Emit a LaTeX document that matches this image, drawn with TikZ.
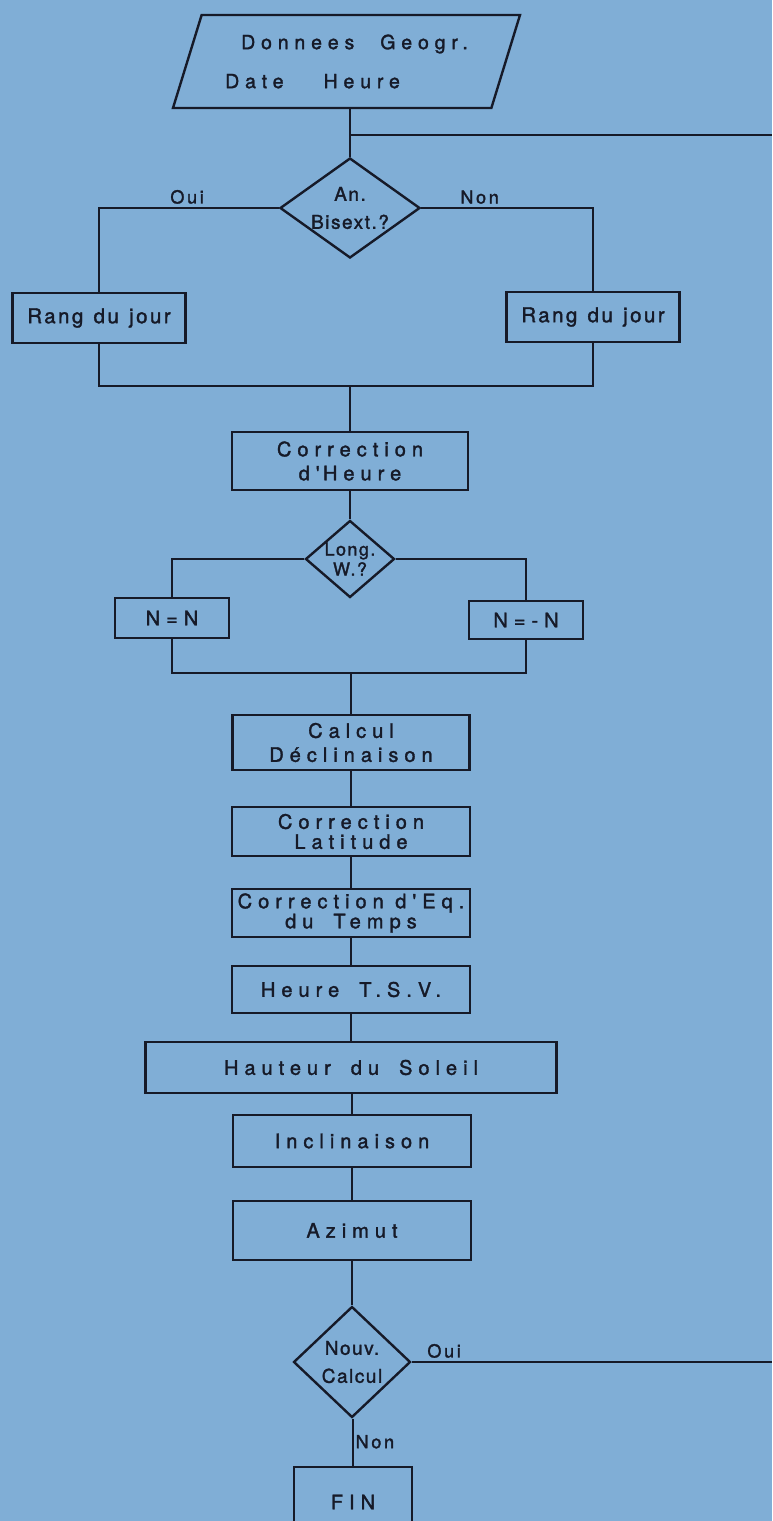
\documentclass[tikz,border=0pt]{standalone}
\usepackage{fontspec}
\usepackage{tikz}
\usetikzlibrary{positioning, shapes.geometric}

\newfontfamily\widefont[LetterSpace=30, FakeBold=1.6]{TeX Gyre Heros}
\newfontfamily\narrowfont[LetterSpace=8, FakeBold=1.6]{TeX Gyre Heros}
\newfontfamily\rangfont[LetterSpace=12, FakeBold=1.6]{TeX Gyre Heros}
\newfontfamily\tagfont[LetterSpace=15, FakeBold=1.6]{TeX Gyre Heros}
\definecolor{sheet}{RGB}{128,174,214}
\definecolor{ink}{RGB}{22,26,40}

\begin{document}
\begin{tikzpicture}[
  x=1pt, y=-1pt,
  box/.style={rectangle, draw=ink, line width=2.4pt, inner sep=0pt, text=ink, align=center, font={\widefont\fontsize{20pt}{24pt}\selectfont}},
  rangbox/.style={box, font={\rangfont\fontsize{20.5pt}{24pt}\selectfont}},
  iobox/.style={trapezium, trapezium left angle=62, trapezium right angle=118, trapezium stretches body, draw=ink, line width=2.4pt, inner sep=0pt, text=ink, align=left, font={\widefont\fontsize{19.5pt}{23pt}\selectfont}},
  decision/.style={diamond, draw=ink, line width=2.4pt, inner sep=-5pt, text=ink, align=center, font={\narrowfont\fontsize{19pt}{28pt}\selectfont}},
  line/.style={draw=ink, line width=2.4pt},
  tag/.style={text=ink, inner sep=3pt, font={\tagfont\fontsize{18pt}{20pt}\selectfont}}
]
\useasboundingbox (0,0) rectangle (772,1521);
\fill[sheet] (0,0) rectangle (772,1521);

\node[iobox, minimum width=347, minimum height=93] (data) at (346.5,61.5)
  {\hspace*{16pt}Donnees\hspace{26pt}Geogr.\\[16pt]Date\hspace{40pt}Heure};
\node[decision, minimum width=140, minimum height=100] (bis) at (350,208) {An.\\Bisext.?};
\node[rangbox, minimum width=173, minimum height=50] (rangoui) at (99,318) {Rang\enspace du\enspace jour};
\node[rangbox, minimum width=173, minimum height=50] (rangnon) at (593,317) {Rang\enspace du\enspace jour};
\node[box, minimum width=236, minimum height=58] (corrheure) at (350,461) {Correction\\d'\,Heure};
\node[decision, minimum width=89, minimum height=77, font={\narrowfont\fontsize{18pt}{20pt}\selectfont}] (longw) at (350,559) {Long.\\W.?};
\node[box, minimum width=114, minimum height=40] (nplus) at (172,618) {N=N};
\node[box, minimum width=114, minimum height=38] (nmoins) at (526,620) {N=-N};
\node[box, minimum width=237, minimum height=55] (decl) at (351,742.5) {Calcul\\Déclinaison};
\node[box, minimum width=238, minimum height=49, font={\widefont\fontsize{20pt}{20pt}\selectfont}] (lat) at (351,831.5) {Correction\\Latitude};
\node[box, minimum width=238, minimum height=48, font={\widefont\fontsize{20pt}{20pt}\selectfont}] (eqtemps) at (351,913) {Correction d'Eq.\\du\quad Temps};
\node[box, minimum width=238, minimum height=47] (tsv) at (351,989.5) {Heure\quad T.S.V.};
\node[box, minimum width=411, minimum height=51] (hauteur) at (351,1067.5) {Hauteur\quad du\quad Soleil};
\node[box, minimum width=238, minimum height=52] (incl) at (352,1141) {Inclinaison};
\node[box, minimum width=238, minimum height=59] (azimut) at (352,1230.5) {Azimut};
\node[decision, minimum width=117, minimum height=111] (nouveau) at (352,1362) {Nouv.\\Calcul};
\node[box, minimum width=118, minimum height=70] (fin) at (353,1502) {FIN};

\coordinate (j0) at (350,135);
\coordinate (retour) at (772,135);
\coordinate (jrang) at (350,386);
\coordinate (jlong) at (351,673);
\coordinate (boucle) at (772,1362);

\draw[line] (bis.north |- data.south) -- (bis.north);
\draw[line] (j0) -- (retour);
\draw[line] (bis.west) -| node[tag, pos=0.255, above] {Oui} (rangoui.north);
\draw[line] (bis.east) -| node[tag, pos=0.17, above] {Non} (rangnon.north);
\draw[line] (rangoui.south) |- (jrang) -| (rangnon.south);
\draw[line] (jrang) -- (corrheure.north);
\draw[line] (corrheure.south) -- (longw.north);
\draw[line] (longw.west) -| (nplus.north);
\draw[line] (longw.east) -| (nmoins.north);
\draw[line] (nplus.south) |- (jlong) -| (nmoins.south);
\draw[line] (jlong) -- (decl.north);
\foreach \a/\b in {decl/lat, lat/eqtemps, eqtemps/tsv, tsv/hauteur}
  \draw[line] (\a.south) -- (\b.north);
\foreach \a/\b in {hauteur/incl, incl/azimut, azimut/nouveau, nouveau/fin}
  \draw[line] (\b.north |- \a.south) -- (\b.north);
\draw[line] (nouveau.east) -- node[tag, pos=0.09, above] {Oui} (boucle);
\path (nouveau.south) -- node[tag, pos=0.49, right] {Non} (fin.north);
\end{tikzpicture}
\end{document}
